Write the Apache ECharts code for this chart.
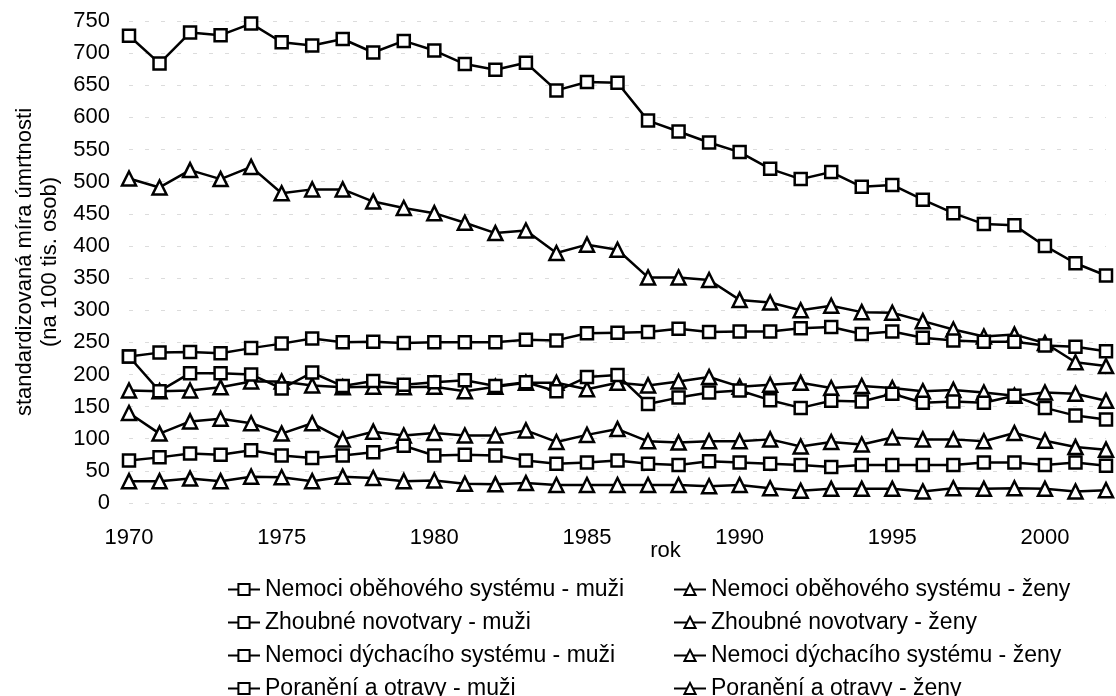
<!DOCTYPE html>
<html>
<head>
<meta charset="utf-8">
<script src="https://cdn.jsdelivr.net/npm/echarts@6/dist/echarts.min.js"></script>
<style>
  html, body { margin: 0; padding: 0; background: #fff; }
  #chart { width: 1116px; height: 696px; }
</style>
</head>
<body>
<div id="chart"></div>
<script>
// roky
const years = ['1970', '1971', '1972', '1973', '1974', '1975', '1976', '1977', '1978', '1979',
  '1980', '1981', '1982', '1983', '1984', '1985', '1986', '1987', '1988', '1989',
  '1990', '1991', '1992', '1993', '1994', '1995', '1996', '1997', '1998', '1999',
  '2000', '2001', '2002'];

// hodnoty
const obehMuzi = [727, 684, 732, 728, 746, 717, 712, 722, 701, 719, 704, 683, 674, 685, 642, 655, 654,
  595, 578, 561, 546, 520, 504, 515, 492, 495, 472, 451, 434, 432, 400, 373, 354];
const obehZeny = [505, 491, 518, 504, 523, 482, 488, 488, 469, 459, 451, 436, 420, 424, 389, 402, 394,
  351, 351, 347, 316, 312, 300, 307, 297, 296, 283, 270, 259, 262, 249, 219, 213];
const zhoubMuzi = [228, 234, 235, 233, 241, 248, 256, 250, 251, 249, 250, 250, 250, 254, 253, 264, 265,
  266, 271, 266, 267, 267, 272, 274, 263, 267, 257, 253, 251, 251, 245, 243, 236];
const zhoubZeny = [175, 174, 175, 180, 189, 189, 183, 180, 181, 180, 181, 174, 181, 187, 187, 177, 187,
  183, 189, 196, 181, 184, 187, 179, 182, 179, 174, 176, 172, 167, 172, 170, 159];
const dychMuzi = [228, 174, 202, 202, 200, 178, 203, 182, 190, 184, 188, 191, 182, 188, 174, 196, 199,
  154, 164, 172, 175, 160, 148, 159, 158, 170, 156, 158, 156, 167, 148, 136, 130];
const dychZeny = [140, 108, 127, 131, 124, 108, 124, 99, 111, 105, 109, 105, 105, 113, 95, 106, 115,
  96, 94, 96, 96, 99, 88, 95, 91, 102, 99, 99, 96, 109, 97, 87, 83];
const poranMuzi = [66, 71, 77, 75, 82, 74, 70, 74, 79, 89, 74, 75, 74, 66, 61, 63, 66,
  61, 59, 65, 63, 61, 59, 56, 59, 59, 59, 59, 63, 63, 59, 63, 58];
const poranZeny = [34, 34, 38, 34, 41, 40, 34, 41, 39, 34, 35, 30, 29, 31, 28, 28, 28,
  28, 28, 26, 28, 23, 19, 22, 22, 22, 18, 23, 22, 23, 22, 18, 20];

const namesMuzi = ['Nemoci oběhového systému - muži', 'Zhoubné novotvary - muži',
  'Nemoci dýchacího systému - muži', 'Poranění a otravy - muži'];
const namesZeny = ['Nemoci oběhového systému - ženy', 'Zhoubné novotvary - ženy',
  'Nemoci dýchacího systému - ženy', 'Poranění a otravy - ženy'];

const font = '"Liberation Sans", Arial, sans-serif';

function makeSeries(name, data, symbol) {
  return {
    name: name,
    type: 'line',
    data: data,
    symbol: symbol,
    symbolSize: symbol === 'rect' ? 12 : 14,
    showAllSymbol: true,
    lineStyle: { color: '#000', width: 2.5 },
    itemStyle: { color: '#fff', borderColor: '#000', borderWidth: 2.5 },
    emphasis: { disabled: true },
  };
}

const chart = echarts.init(document.getElementById('chart'));

// legenda ve dvou sloupcich
const legendBase = {
  orient: 'vertical',
  top: 572,
  height: 140,
  itemWidth: 32,
  itemHeight: 14,
  itemGap: 8,
  textStyle: { fontFamily: font, fontSize: 23, color: '#000', lineHeight: 25 },
};

const option = {
  animation: false,
  backgroundColor: '#fff',
  grid: { left: 129, right: 10, top: 21, bottom: 193, containLabel: false },
  legend: [
    Object.assign({}, legendBase, { left: 222, data: namesMuzi }),
    Object.assign({}, legendBase, { left: 668, data: namesZeny }),
  ],
  xAxis: {
    type: 'category',
    data: years,
    boundaryGap: false,
    name: 'rok',
    nameLocation: 'middle',
    nameGap: 37,
    nameMoveOverlap: false,
    nameTextStyle: { fontFamily: font, fontSize: 22, color: '#000', padding: [0, 0, 0, 96] },
    axisLine: { show: false },
    axisTick: { show: false },
    axisLabel: { interval: 4, margin: 24, fontFamily: font, fontSize: 22, color: '#000' },
    splitLine: { show: false },
  },
  yAxis: {
    type: 'value',
    min: 0,
    max: 750,
    interval: 50,
    name: 'standardizovaná míra úmrtnosti\n(na 100 tis. osob)',
    nameLocation: 'middle',
    nameRotate: 90,
    nameGap: 66,
    nameTextStyle: { fontFamily: font, fontSize: 22, color: '#000', lineHeight: 25 },
    axisLine: { show: false },
    axisTick: { show: false },
    axisLabel: { margin: 19, fontFamily: font, fontSize: 22, color: '#000' },
    splitLine: { show: true, lineStyle: { color: '#dcdcdc', width: 1, type: [4, 12] } },
  },
  series: [
    makeSeries(namesMuzi[0], obehMuzi, 'rect'),
    makeSeries(namesZeny[0], obehZeny, 'triangle'),
    makeSeries(namesMuzi[1], zhoubMuzi, 'rect'),
    makeSeries(namesZeny[1], zhoubZeny, 'triangle'),
    makeSeries(namesMuzi[2], dychMuzi, 'rect'),
    makeSeries(namesZeny[2], dychZeny, 'triangle'),
    makeSeries(namesMuzi[3], poranMuzi, 'rect'),
    makeSeries(namesZeny[3], poranZeny, 'triangle'),
  ],
};

chart.setOption(option);
</script>
</body>
</html>
